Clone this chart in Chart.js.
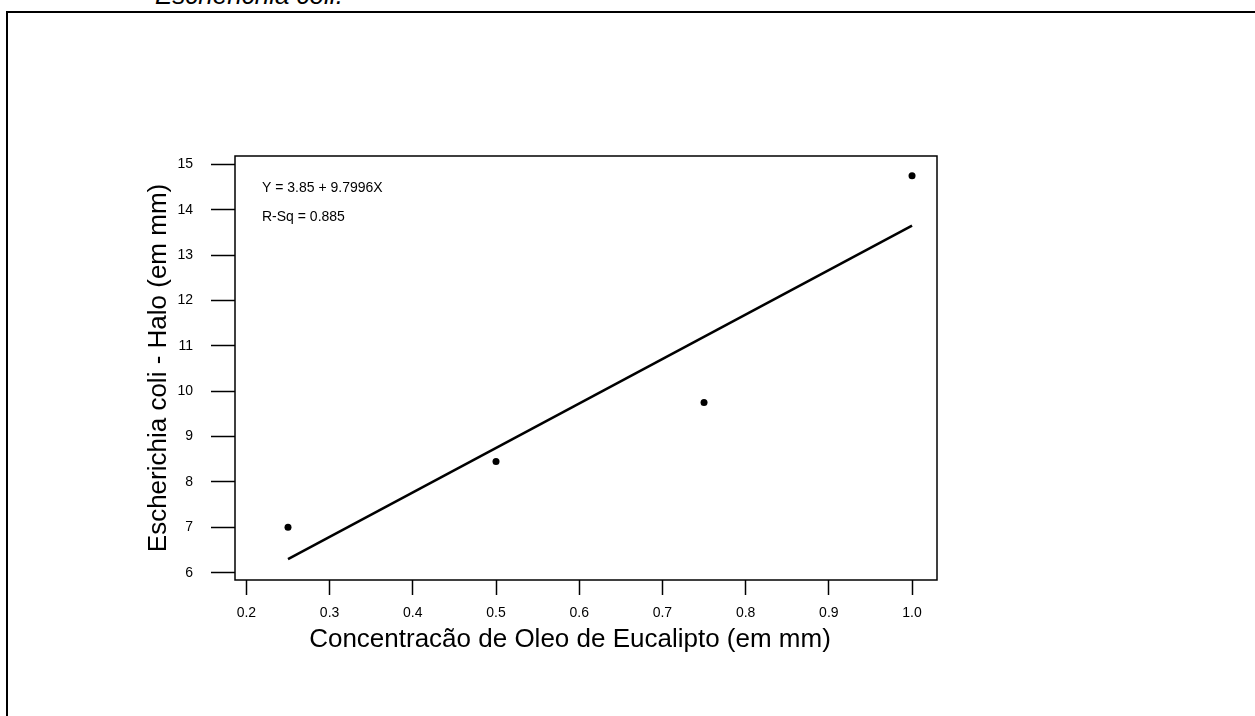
<!DOCTYPE html>
<html lang="pt">
<head>
    <meta charset="UTF-8">
    <title>Escherichia coli - Halo</title>
    <script src="https://cdn.jsdelivr.net/npm/chart.js"></script>
    <style>
        body {
            margin: 0;
            background-color: white;
            font-family: Arial, "Liberation Sans", sans-serif;
            overflow: hidden;
        }
        .caption {
            position: absolute;
            left: 155px;
            top: -20px;
            font-size: 26px;
            line-height: 30px;
            font-style: italic;
            color: #000;
        }
        .frame {
            position: absolute;
            left: 6px;
            top: 11px;
            width: 1300px;
            height: 800px;
            border-left: 2px solid #000;
            border-top: 2px solid #000;
        }
        .chart-container {
            position: absolute;
            left: 0;
            top: 0;
            width: 1255px;
            height: 716px;
        }
    </style>
</head>
<body>
    <div class="caption">Escherichia coli.</div>
    <div class="frame"></div>

    <div class="chart-container">
        <canvas id="haloChart"></canvas>
    </div>

    <script>
        // measured points (concentration vs halo)
        const concentration = [0.25, 0.5, 0.75, 1.0];
        const halo = [7.0, 8.45, 9.75, 14.75];

        // fitted line ends
        const fitX = [0.25, 1.0];
        const fitY = [6.30, 13.65];

        const xTicks = [0.2, 0.3, 0.4, 0.5, 0.6, 0.7, 0.8, 0.9, 1.0];
        const xTickLabels = ['0.2', '0.3', '0.4', '0.5', '0.6', '0.7', '0.8', '0.9', '1.0'];
        const yTicks = [6, 7, 8, 9, 10, 11, 12, 13, 14, 15];
        const yTickLabels = ['6', '7', '8', '9', '10', '11', '12', '13', '14', '15'];

        const statLines = ['Y = 3.85 + 9.7996X', 'R-Sq = 0.885'];
        const xTitle = 'Concentracão de Oleo de Eucalipto (em mm)';
        const yTitle = 'Escherichia coli - Halo (em mm)';

        const fontFamily = 'Arial, "Liberation Sans", sans-serif';

        // box around the plot area, regression text and x title
        const framePlugin = {
            id: 'frame',
            afterDraw(chart) {
                const { ctx, chartArea } = chart;
                ctx.save();
                ctx.strokeStyle = '#000';
                ctx.lineWidth = 1.5;
                ctx.strokeRect(chartArea.left, chartArea.top,
                    chartArea.right - chartArea.left, chartArea.bottom - chartArea.top);

                ctx.fillStyle = '#000';
                ctx.font = '14px ' + fontFamily;
                ctx.textBaseline = 'middle';
                ctx.textAlign = 'left';
                statLines.forEach((line, i) => {
                    ctx.fillText(line, chartArea.left + 27, chartArea.top + 32 + i * 29);
                });

                // x title sits a bit left of the plot centre in the original
                ctx.font = '26px ' + fontFamily;
                ctx.textAlign = 'center';
                ctx.fillText(xTitle, chartArea.left + 335, chartArea.bottom + 60);
                ctx.restore();
            }
        };

        new Chart(document.getElementById('haloChart'), {
            type: 'scatter',
            data: {
                datasets: [
                    {
                        label: 'Halo',
                        data: concentration.map((x, i) => ({ x: x, y: halo[i] })),
                        pointRadius: 3.5,
                        pointBackgroundColor: '#000',
                        pointBorderWidth: 0
                    },
                    {
                        label: 'Regressao',
                        data: fitX.map((x, i) => ({ x: x, y: fitY[i] })),
                        showLine: true,
                        pointRadius: 0,
                        borderColor: '#000',
                        borderWidth: 2.5,
                        fill: false
                    }
                ]
            },
            options: {
                responsive: true,
                maintainAspectRatio: false,
                animation: false,
                layout: {
                    padding: { left: 0, top: 156, right: 318, bottom: 61 }
                },
                plugins: {
                    legend: { display: false },
                    tooltip: { enabled: false }
                },
                scales: {
                    x: {
                        type: 'linear',
                        min: 0.1863,
                        max: 1.030,
                        afterBuildTicks: (scale) => {
                            scale.ticks = xTicks.map(v => ({ value: v }));
                        },
                        afterFit: (scale) => {
                            scale.height = 75;
                        },
                        ticks: {
                            callback: (value, index) => xTickLabels[index],
                            color: '#000',
                            font: { family: fontFamily, size: 14 },
                            padding: 10,
                            autoSkip: false,
                            maxRotation: 0
                        },
                        grid: {
                            drawOnChartArea: false,
                            tickLength: 15,
                            tickColor: '#000',
                            tickWidth: 1.5
                        },
                        border: { display: false },
                        title: { display: false }
                    },
                    y: {
                        type: 'linear',
                        min: 5.839,
                        max: 15.183,
                        afterBuildTicks: (scale) => {
                            scale.ticks = yTicks.map(v => ({ value: v }));
                        },
                        afterFit: (scale) => {
                            scale.width = 235;
                        },
                        ticks: {
                            callback: (value, index) => yTickLabels[index],
                            color: '#000',
                            font: { family: fontFamily, size: 14 },
                            padding: 18,
                            autoSkip: false
                        },
                        grid: {
                            drawOnChartArea: false,
                            tickLength: 24,
                            tickColor: '#000',
                            tickWidth: 1.5
                        },
                        border: { display: false },
                        title: {
                            display: true,
                            text: yTitle,
                            color: '#000',
                            font: { family: fontFamily, size: 26 },
                            padding: { top: 143, bottom: 0 }
                        }
                    }
                }
            },
            plugins: [framePlugin]
        });
    </script>
</body>
</html>
